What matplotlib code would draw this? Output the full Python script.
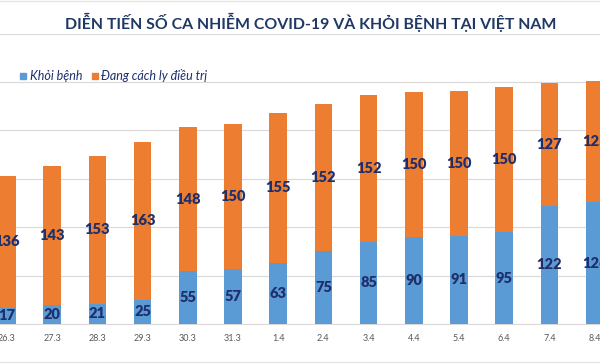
import matplotlib
matplotlib.use("Agg")
from matplotlib import pyplot as plt
import numpy as np

dates = ["26.3", "27.3", "28.3", "29.3", "30.3", "31.3", "1.4",
         "2.4", "3.4", "4.4", "5.4", "6.4", "7.4", "8.4"]
recovered = [17, 20, 21, 25, 55, 57, 63, 75, 85, 90, 91, 95, 122, 126]
treating = [136, 143, 153, 163, 148, 150, 155, 152, 152, 150, 150, 150, 127, 125]

BLUE = "#5B9BD5"
ORANGE = "#ED7D31"
NAVY = "#1F2F6B"

plt.rcParams["font.family"] = ["Lato", "DejaVu Sans"]

fig = plt.figure(figsize=(6, 3.64), dpi=100)
# axes spans full width; bars are partly cut at both ends like the reference
ax = fig.add_axes([0, 40 / 364, 1, (324 - 33.6) / 364])

x = np.arange(len(dates))
ax.bar(x, recovered, width=0.39, color=BLUE, zorder=3)
ax.bar(x, treating, width=0.39, bottom=recovered, color=ORANGE, zorder=3)

for i in range(len(dates)):
    ax.text(x[i], recovered[i] / 2, str(recovered[i]), ha="center", va="center",
            fontsize=10.5, fontweight="heavy", color=NAVY, zorder=4)
    ax.text(x[i], recovered[i] + treating[i] / 2, str(treating[i]), ha="center", va="center",
            fontsize=10.5, fontweight="heavy", color=NAVY, zorder=4)

ax.set_xlim(-7 / 45.2, 593 / 45.2)
ax.set_ylim(0, 300)
ax.set_yticks(range(0, 301, 50))
ax.yaxis.grid(True, color="#D9D9D9", linewidth=0.8, zorder=0)
ax.tick_params(axis="y", left=False, labelleft=False)
ax.tick_params(axis="x", bottom=False, labelsize=6.5, labelcolor="#595959", pad=4)
ax.set_xticks(x)
ax.set_xticklabels(dates)
for s in ["top", "right", "left"]:
    ax.spines[s].set_visible(False)
ax.spines["bottom"].set_color("#D9D9D9")

fig.text(0.517, 1 - 22 / 364, "DIỄN TIẾN SỐ CA NHIỄM COVID-19 VÀ KHỎI BỆNH TẠI VIỆT NAM",
         ha="center", va="center", fontsize=11.4, fontweight="bold", color="#1F3864")

# legend drawn by hand to sit at the left, above the plot
fig.patches.append(plt.Rectangle((20 / 600, 1 - 79 / 364), 6 / 600, 6 / 364,
                                 transform=fig.transFigure, color=BLUE))
fig.text(30 / 600, 1 - 76 / 364, "Khỏi bệnh", ha="left", va="center",
         fontsize=9, style="italic", color="#1F2F6B")
fig.patches.append(plt.Rectangle((92 / 600, 1 - 79 / 364), 6 / 600, 6 / 364,
                                 transform=fig.transFigure, color=ORANGE))
fig.text(101 / 600, 1 - 76 / 364, "Đang cách ly điều trị", ha="left", va="center",
         fontsize=9, style="italic", color="#1F2F6B")

fig.add_artist(plt.Line2D([0, 1], [1 - 1 / 364, 1 - 1 / 364], color="#E6E6E6", linewidth=1))
fig.add_artist(plt.Line2D([0, 1], [2 / 364, 2 / 364], color="#E6E6E6", linewidth=1))

fig.savefig("out.png", dpi=100)
